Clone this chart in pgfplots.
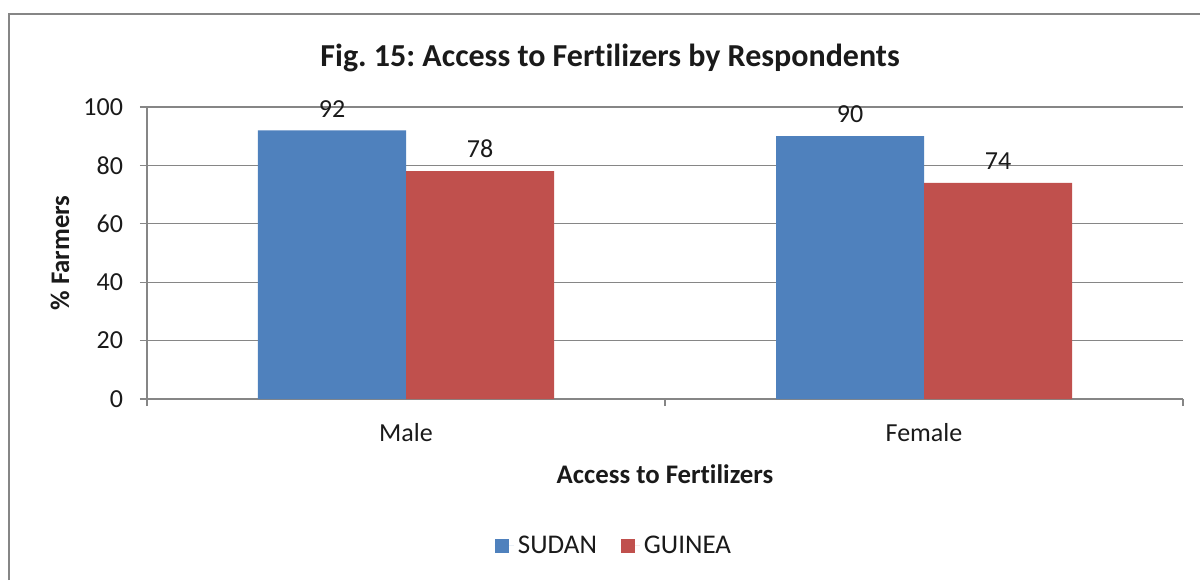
\documentclass[border=0pt]{standalone}
\usepackage{pgfplots}
\pgfplotsset{compat=1.18}
\usepackage{fontspec}
\setmainfont[Ligatures=CommonOff]{Carlito}
\definecolor{sudan}{HTML}{4F81BD}
\definecolor{guinea}{HTML}{C0504D}
\definecolor{gridc}{HTML}{868686}
\definecolor{txt}{HTML}{1A1A1A}
\begin{document}
\frenchspacing
\begin{tikzpicture}
\useasboundingbox (0,0) rectangle (600pt,290pt);
\fill[white] (0,0) rectangle (600pt,290pt);
\draw[gridc, line width=1.1pt] (4.5pt,0) -- (4.5pt,283pt) -- (600pt,283pt);
\begin{axis}[
  at={(73.5pt,90.5pt)}, anchor=south west,
  scale only axis, width=518pt, height=146pt,
  xmin=-0.5, xmax=1.5, ymin=0, ymax=100,
  axis lines=left, axis line style={-, gridc, line width=0.6pt},
  ytick={0,20,...,100},
  ymajorgrids, grid style={gridc, line width=0.6pt},
  xtick={0,1}, xticklabels={Male,Female},
  major x tick style={draw=none},
  minor xtick={-0.5,0.5,1.5},
  minor x tick style={gridc, line width=0.6pt},
  minor tick length=3.5pt,
  major tick length=3.5pt,
  ytick style={gridc, line width=0.6pt},
  tick align=outside,
  /pgf/number format/assume math mode=true,
  every tick label/.append style={font=\fontsize{13}{15}\selectfont, text=txt},
  yticklabel style={xshift=-5pt},
  xticklabel style={yshift=-5pt},
  ybar=0pt, bar width=74pt,
  nodes near coords,
  every node near coord/.append style={font=\fontsize{13}{15}\selectfont, text=txt, yshift=3pt},
  title={Fig. 15: Access to Fertilizers by Respondents},
  title style={font=\bfseries\fontsize{16}{19}\selectfont, text=txt, at={(0.447,1.127)}, anchor=center},
  xlabel={Access to Fertilizers},
  xlabel style={font=\bfseries\fontsize{13.4}{16}\selectfont, text=txt, at={(0.5,-0.257)}, anchor=center},
  ylabel={\% Farmers},
  ylabel style={font=\bfseries\fontsize{13.4}{16}\selectfont, text=txt, at={(-0.084,0.5)}, anchor=center},
  legend style={at={(0.4517,-0.503)}, anchor=center, draw=none, legend columns=2,
    font=\fontsize{13.5}{16}\selectfont, text=txt,
    /tikz/every even column/.append style={column sep=10pt}},
  legend image code/.code={\fill[#1] (0pt,-3.5pt) rectangle (7pt,3.5pt); \path (0pt,0pt) -- (9.5pt,0pt);},
]
\addplot[fill=sudan, draw=none] coordinates {(0,92) (1,90)};
\addplot[fill=guinea, draw=none] coordinates {(0,78) (1,74)};
\legend{SUDAN, GUINEA}
\end{axis}
\end{tikzpicture}
\end{document}
